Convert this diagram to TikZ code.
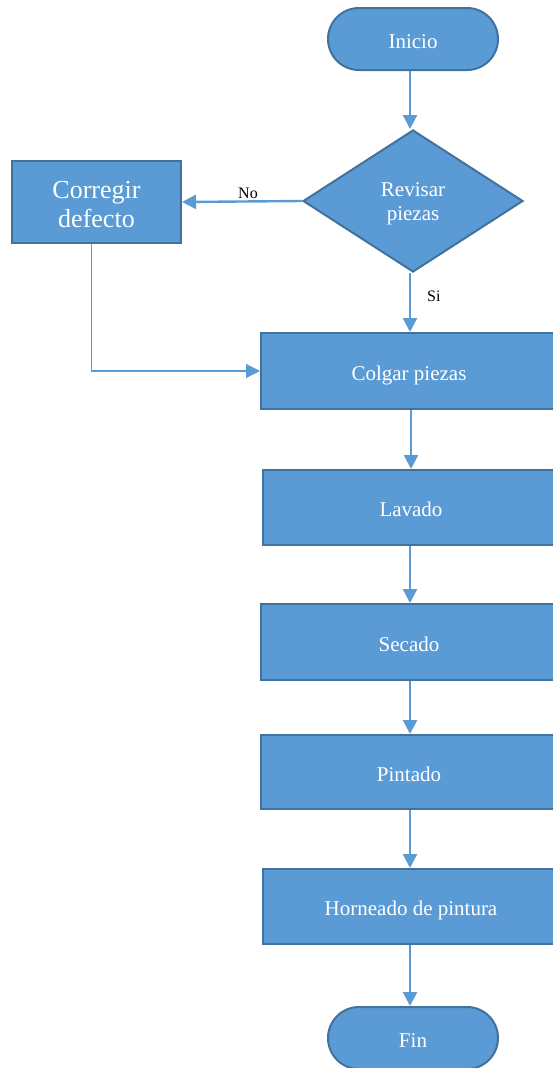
\documentclass[tikz,border=0pt]{standalone}
\usepackage{fontspec}
\setmainfont{Liberation Serif}
\usetikzlibrary{shapes.geometric,arrows.meta}

\definecolor{boxfill}{HTML}{5B9BD5}
\definecolor{boxedge}{HTML}{41719C}

\tikzset{
  base/.style={draw=boxedge, line width=2pt, fill=boxfill, text=white,
    font=\fontsize{21}{24}\selectfont, align=center, inner sep=0pt},
  oneline/.style={text height=20pt, text depth=2pt},
  terminal/.style={base, oneline, rounded corners=31pt, minimum width=170pt, minimum height=62pt},
  process/.style={base, oneline, rectangle, minimum width=296pt, minimum height=75pt},
  decision/.style={base, diamond, aspect=1.55, minimum width=220pt, minimum height=142pt},
  flow/.style={draw=boxfill, line width=2.4pt, -{Triangle[width=14pt,length=14pt]}},
  thinflow/.style={draw=boxfill, line width=1.2pt, -{Triangle[width=14pt,length=14pt]}},
  lbl/.style={font=\fontsize{16}{18}\selectfont, text=black, inner sep=2pt}
}

\begin{document}
\begin{tikzpicture}[x=1pt, y=-1pt]
  \path[use as bounding box, clip] (0,0) rectangle (553,1068);

  % nodes of the flow
  \node[terminal] (inicio) at (413,39) {Inicio};
  \node[decision] (revisar) at (413,201) {\rule{0pt}{20pt}Revisar\\piezas};
  \node[base, rectangle, minimum width=169pt, minimum height=82pt,
        font=\fontsize{26}{29}\selectfont] (corregir) at (96.5,202) {\rule{0pt}{23pt}Corregir\\defecto};
  \node[process, minimum height=76pt] (colgar) at (409,371) {Colgar piezas};
  \node[process] (lavado) at (411,507.5) {Lavado};
  \node[process, minimum height=76pt] (secado) at (409,642) {Secado};
  \node[process, minimum height=74pt] (pintado) at (409,772) {Pintado};
  \node[process] (horneado) at (411,906.5) {Horneado de pintura};
  \node[terminal] (fin) at (413,1038) {Fin};

  % connectors
  \draw[flow] ([xshift=-3pt]inicio.south) -- ([xshift=-3pt]revisar.north);
  \draw[flow] (revisar.west) -- node[lbl, above, pos=0.45] {No} (corregir.east);
  \draw[flow] ([xshift=-3pt]revisar.south) -- node[lbl, right, pos=0.39, xshift=14pt] {Si} ([xshift=-3pt]revisar.south |- colgar.north);
  \draw[thinflow] ([xshift=-5pt]corregir.south) |- (colgar.west);
  \draw[flow] ([xshift=2pt]colgar.south) -- ([xshift=2pt]colgar.south |- lavado.north);
  \draw[flow] ([xshift=-1pt]lavado.south) -- ([xshift=-1pt]lavado.south |- secado.north);
  \draw[flow] ([xshift=1pt]secado.south) -- ([xshift=1pt]secado.south |- pintado.north);
  \draw[flow] ([xshift=1pt]pintado.south) -- ([xshift=1pt]pintado.south |- horneado.north);
  \draw[flow] ([xshift=-1pt]horneado.south) -- ([xshift=-1pt]horneado.south |- fin.north);
\end{tikzpicture}
\end{document}
